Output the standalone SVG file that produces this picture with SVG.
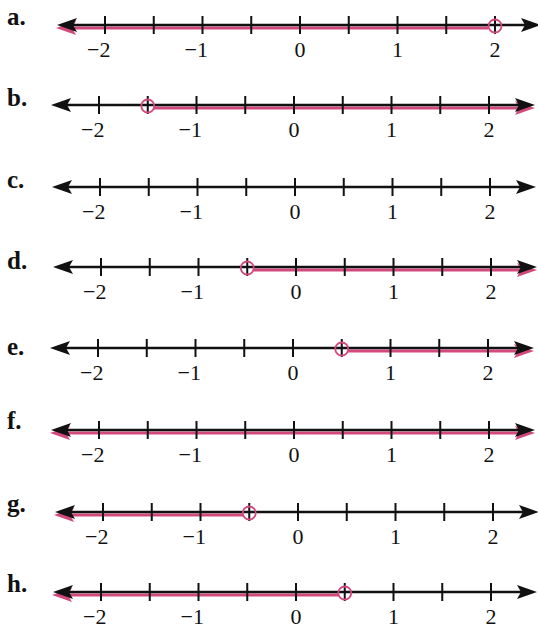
<svg xmlns="http://www.w3.org/2000/svg" width="538" height="624" viewBox="0 0 538 624">
<defs>
<style>
.ax{stroke:#111;stroke-width:2.6;fill:none}
.tk{stroke:#111;stroke-width:2}
.pk{stroke:#d4497c;stroke-width:3;fill:none}
.oc{stroke:#d4497c;stroke-width:1.8;fill:none}
.ah{fill:#111}
.ph{fill:#d4497c}
.num{font-family:'Liberation Serif',serif;font-size:22px;fill:#111;text-anchor:end}
.lab{font-family:'Liberation Serif',serif;font-size:25px;font-weight:bold;fill:#111}
</style>
<path id="la" d="M0,0 L20,-7 L16,0 L20,7 Z"/>
<path id="ra" d="M0,0 L-20,-7 L-16,0 L-20,7 Z"/>
<g id="base">
<line class="ax" x1="-230" y1="0" x2="228" y2="0"/>
<use href="#la" x="-243" y="0" class="ah"/>
<use href="#ra" x="241" y="0" class="ah"/>
<path class="tk" d="M-195,-9V9M-146.25,-9V9M-97.5,-9V9M-48.75,-9V9M0,-9V9M48.75,-9V9M97.5,-9V9M146.25,-9V9M195,-9V9"/>
<text class="num" y="32" x="-189.5">−2</text>
<text class="num" y="32" x="-92">−1</text>
<text class="num" y="32" x="5.5">0</text>
<text class="num" y="32" x="103">1</text>
<text class="num" y="32" x="200.5">2</text>
</g>
</defs>
<g id="labels">
<text class="lab" x="7" y="25">a.</text>
<text class="lab" x="7" y="106">b.</text>
<text class="lab" x="7" y="188">c.</text>
<text class="lab" x="7" y="269">d.</text>
<text class="lab" x="7" y="355">e.</text>
<text class="lab" x="7" y="429">f.</text>
<text class="lab" x="7" y="512">g.</text>
<text class="lab" x="7" y="592">h.</text>
</g>
<g id="line-a" transform="translate(300,25)">
<line class="pk" x1="-235" y1="3" x2="188" y2="3"/>
<use href="#la" x="-244" y="3" class="ph"/>
<use href="#base"/>
<circle class="oc" cx="195" cy="1" r="6.5"/>
</g>
<g id="line-b" transform="translate(294,105)">
<line class="pk" x1="-140" y1="3" x2="232" y2="3"/>
<use href="#ra" x="241" y="3" class="ph"/>
<use href="#base"/>
<circle class="oc" cx="-146.25" cy="1" r="6.5"/>
</g>
<g id="line-c" transform="translate(295,187)">
<use href="#base"/>
</g>
<g id="line-d" transform="translate(296,267)">
<line class="pk" x1="-42" y1="3" x2="232" y2="3"/>
<use href="#ra" x="241" y="3" class="ph"/>
<use href="#base"/>
<circle class="oc" cx="-48.75" cy="1" r="6.5"/>
</g>
<g id="line-e" transform="translate(293,348)">
<line class="pk" x1="55" y1="3" x2="232" y2="3"/>
<use href="#ra" x="241" y="3" class="ph"/>
<use href="#base"/>
<circle class="oc" cx="48.75" cy="1" r="6.5"/>
</g>
<g id="line-f" transform="translate(294,430)">
<line class="pk" x1="-235" y1="3" x2="232" y2="3"/>
<use href="#la" x="-244" y="3" class="ph"/>
<use href="#ra" x="241" y="3" class="ph"/>
<use href="#base"/>
</g>
<g id="line-g" transform="translate(298,512)">
<line class="pk" x1="-235" y1="3" x2="-55" y2="3"/>
<use href="#la" x="-244" y="3" class="ph"/>
<use href="#base"/>
<circle class="oc" cx="-48.75" cy="1" r="6.5"/>
</g>
<g id="line-h" transform="translate(296,592)">
<line class="pk" x1="-235" y1="3" x2="42" y2="3"/>
<use href="#la" x="-244" y="3" class="ph"/>
<use href="#base"/>
<circle class="oc" cx="48.75" cy="1" r="6.5"/>
</g>
</svg>
